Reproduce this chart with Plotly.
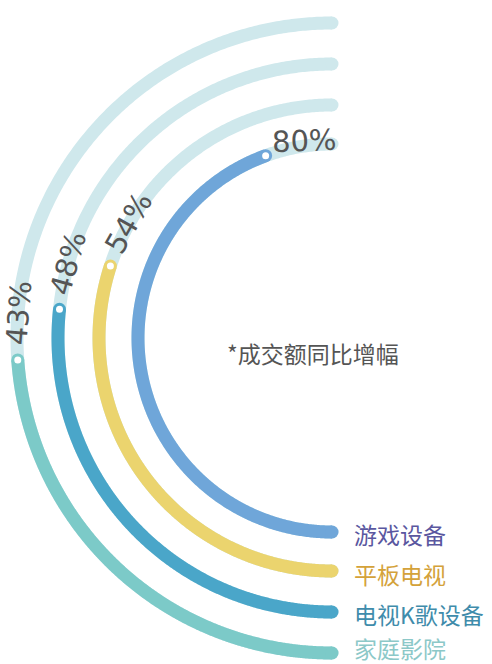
import numpy as np
import plotly.graph_objects as go

# ---- data ----
categories = ["游戏设备", "平板电视", "电视K歌设备", "家庭影院"]
values = [80, 54, 48, 43]          # 成交额同比增幅 (%)
value_labels = ["80%", "54%", "48%", "43%"]
scale_max = 90                      # half circle represents 0..90%
note = "*成交额同比增幅"

# ---- styles / layout constants ----
arc_colors = ["#6fa6d9", "#ebd46e", "#4aa6c9", "#7ccac8"]
label_colors = ["#5a57a0", "#d4a23a", "#3f8cab", "#8cc8c8"]
track_color = "#cfe8ec"
radii = [194, 233, 274, 315]
label_gap = [40, 47, 47, 47]
label_shift = [5, 1, 0, -1]
cat_dy = [-2, -3, -2, 5]
LW = 13
W, H = 492, 664
CX_PX, CY_PX = 332, 338


def pt(frac, r):
    phi = np.deg2rad(-90 - 180 * np.asarray(frac))
    return r * np.cos(phi), r * np.sin(phi)


fig = go.Figure()

for i, (cat, v) in enumerate(zip(categories, values)):
    r = radii[i]
    fr = np.linspace(0, 1, 400)
    x, y = pt(fr, r)
    fig.add_trace(go.Scatter(x=x, y=y, mode="lines",
                             line=dict(color=track_color, width=LW, simplify=False),
                             hoverinfo="skip", showlegend=False))
    ex, ey = pt([0, 1], r)
    fig.add_trace(go.Scatter(x=ex, y=ey, mode="markers",
                             marker=dict(color=track_color, size=LW, line=dict(width=0)),
                             hoverinfo="skip", showlegend=False))

for i, (cat, v) in enumerate(zip(categories, values)):
    r = radii[i]
    f = v / scale_max
    fr = np.linspace(0, f, 400)
    x, y = pt(fr, r)
    fig.add_trace(go.Scatter(x=x, y=y, mode="lines",
                             line=dict(color=arc_colors[i], width=LW, simplify=False),
                             hoverinfo="skip", showlegend=False))
    ex, ey = pt([0, f], r)
    fig.add_trace(go.Scatter(x=ex, y=ey, mode="markers",
                             marker=dict(color=arc_colors[i], size=LW, line=dict(width=0)),
                             hoverinfo="skip", showlegend=False))
    dx, dy = pt([f], r)
    fig.add_trace(go.Scatter(x=dx, y=dy, mode="markers",
                             marker=dict(color="white", size=7, line=dict(width=0)),
                             hoverinfo="skip", showlegend=False))

    # value label along the arc
    ft = f + (label_gap[i] / r) / np.pi
    tx, ty = pt([ft], r + label_shift[i])
    phi = np.deg2rad(-90 - 180 * ft)
    ang = np.degrees(np.arctan2(-np.cos(phi), np.sin(phi)))
    if i == 0:
        ang = ang * 0.3
    fig.add_annotation(x=float(tx[0]), y=float(ty[0]), text=value_labels[i],
                       textangle=-ang, showarrow=False,
                       xanchor="center", yanchor="middle",
                       font=dict(family="DejaVu Sans", size=29, color="#555555"))

    # category label at the bottom end
    fig.add_annotation(x=352 - CX_PX, y=-r + cat_dy[i], text=cat, showarrow=False,
                       xanchor="left", yanchor="middle",
                       font=dict(family="Noto Sans CJK SC", size=23, color=label_colors[i]))

fig.add_annotation(x=313 - CX_PX, y=CY_PX - 353, text=note, showarrow=False,
                   xanchor="center", yanchor="middle",
                   font=dict(family="Noto Sans CJK SC", size=23, color="#555555"))

fig.update_layout(
    width=W, height=H,
    margin=dict(l=0, r=0, t=0, b=0),
    paper_bgcolor="white", plot_bgcolor="white",
    xaxis=dict(range=[-CX_PX, W - CX_PX], visible=False, fixedrange=True),
    yaxis=dict(range=[CY_PX - H, CY_PX], visible=False, fixedrange=True),
    showlegend=False,
)

fig.write_html("out.html")
